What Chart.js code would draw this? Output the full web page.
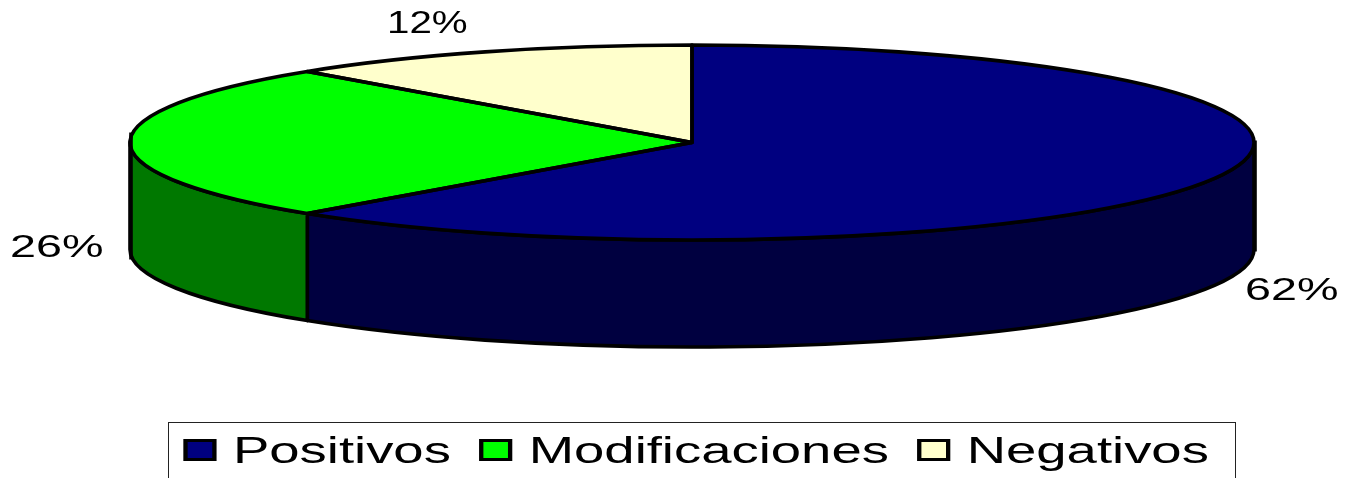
<!DOCTYPE html>
<html><head><meta charset="utf-8">
<style>html,body{margin:0;padding:0;background:#fff;overflow:hidden}canvas{display:block}</style>
<script src="https://cdn.jsdelivr.net/npm/chart.js@4"></script>
</head><body><canvas id="c" width="1346" height="478"></canvas>
<script>
const categories = ['Positivos','Modificaciones','Negativos'];
const values = [62,26,12];
const topColors = ['#000080','#00FF00','#FFFFCC'];
const wallColors = ['#000040','#007800','#808066'];
const pctLabelPos = [[1245,300],[10,257],[387,33]];
const pctLabelStretch = [1.46,1.46,1.26];

const CX=692, CY=142.5, RX=562, RY=97.5, DEPTH=107, LINE=3.6, OUT='#000';
const FONT='"Liberation Sans", Arial, sans-serif';
const LEG_SX=1.445, LEG_BOX_LEFT=185.5, LEG_MID=450, LEG_TEXT_SHIFT=6, LEG_TEXT_DROP=2.5;

function clipFront(a0,a1){
  const T=Math.PI*2; const out=[];
  for(const k of [-1,0,1]){
    const s=Math.max(a0,k*T), e=Math.min(a1,k*T+Math.PI);
    if(e>s) out.push([s,e]);
  }
  return out;
}
const pie3d={
  id:'pie3d',
  afterInit(chart){
    const lg=chart.legend, orig=lg.draw;
    lg.draw=function(){
      const ctx=chart.ctx, hb=lg.legendHitBoxes[0];
      ctx.save();
      ctx.translate(LEG_BOX_LEFT-hb.left*LEG_SX, LEG_MID-(hb.top+hb.height/2));
      ctx.scale(LEG_SX,1);
      const ft=ctx.fillText;
      ctx.fillText=function(t,x,y,m){
        const nx=x-LEG_TEXT_SHIFT, ny=y+LEG_TEXT_DROP;
        return m===undefined?ft.call(ctx,t,nx,ny):ft.call(ctx,t,nx,ny,m);
      };
      orig.call(lg);
      delete ctx.fillText;
      ctx.restore();
    };
  },
  beforeDraw(chart){
    const ctx=chart.ctx;
    ctx.save();
    ctx.strokeStyle='#222'; ctx.lineWidth=1;
    ctx.strokeRect(168.5,422.5,1067,80);
    ctx.restore();
  },
  beforeDatasetsDraw(chart){
    const ctx=chart.ctx, arcs=chart.getDatasetMeta(0).data;
    ctx.save();
    ctx.lineJoin='round'; ctx.strokeStyle=OUT; ctx.lineWidth=LINE;
    arcs.forEach((a,i)=>{
      clipFront(a.startAngle,a.endAngle).forEach(([s,e])=>{
        ctx.beginPath();
        ctx.ellipse(CX,CY,RX,RY,0,s,e);
        ctx.ellipse(CX,CY+DEPTH,RX,RY,0,e,s,true);
        ctx.closePath();
        ctx.fillStyle=wallColors[i];
        ctx.fill(); ctx.stroke();
      });
    });
    ctx.restore();
    const a=arcs[0], r=a.outerRadius;
    ctx.save();
    ctx.translate(CX,CY); ctx.scale(RX/r,RY/r); ctx.translate(-a.x,-a.y);
  },
  afterDatasetsDraw(chart){
    const ctx=chart.ctx, arcs=chart.getDatasetMeta(0).data;
    ctx.restore();
    ctx.save();
    ctx.lineJoin='round'; ctx.strokeStyle=OUT; ctx.lineWidth=LINE;
    arcs.forEach(a=>{
      ctx.beginPath();
      ctx.moveTo(CX,CY);
      ctx.ellipse(CX,CY,RX,RY,0,a.startAngle,a.endAngle);
      ctx.closePath();
      ctx.stroke();
    });
    // squared-off rim at the two extreme ends of the disc
    ctx.beginPath();
    ctx.moveTo(CX-RX+1,CY-10); ctx.lineTo(CX-RX+1,CY+DEPTH+10);
    ctx.moveTo(CX+RX+1,CY-2);  ctx.lineTo(CX+RX+1,CY+DEPTH+2);
    ctx.stroke();
    const total=values.reduce((p,v)=>p+v,0);
    ctx.fillStyle='#000'; ctx.textAlign='left'; ctx.textBaseline='alphabetic';
    ctx.font='32px '+FONT;
    values.forEach((v,i)=>{
      ctx.save();
      ctx.translate(pctLabelPos[i][0],pctLabelPos[i][1]);
      ctx.scale(pctLabelStretch[i],1);
      ctx.fillText(Math.round(v/total*100)+'%',0,0);
      ctx.restore();
    });
    ctx.restore();
  }
};
new Chart(document.getElementById('c'),{
  type:'pie',
  data:{labels:categories,datasets:[{data:values,backgroundColor:topColors,borderWidth:0}]},
  plugins:[pie3d],
  options:{
    responsive:false,animation:false,rotation:0,
    plugins:{
      tooltip:{enabled:false},
      legend:{position:'bottom',labels:{
        boxWidth:20,boxHeight:19,padding:15,color:'#000',
        font:{family:FONT,size:37.7},
        generateLabels(chart){
          return categories.map((t,i)=>({text:t,fillStyle:topColors[i],strokeStyle:'#000',lineWidth:3,index:i,hidden:false,fontColor:'#000'}));
        }
      }}
    }
  }
});
</script></body></html>
